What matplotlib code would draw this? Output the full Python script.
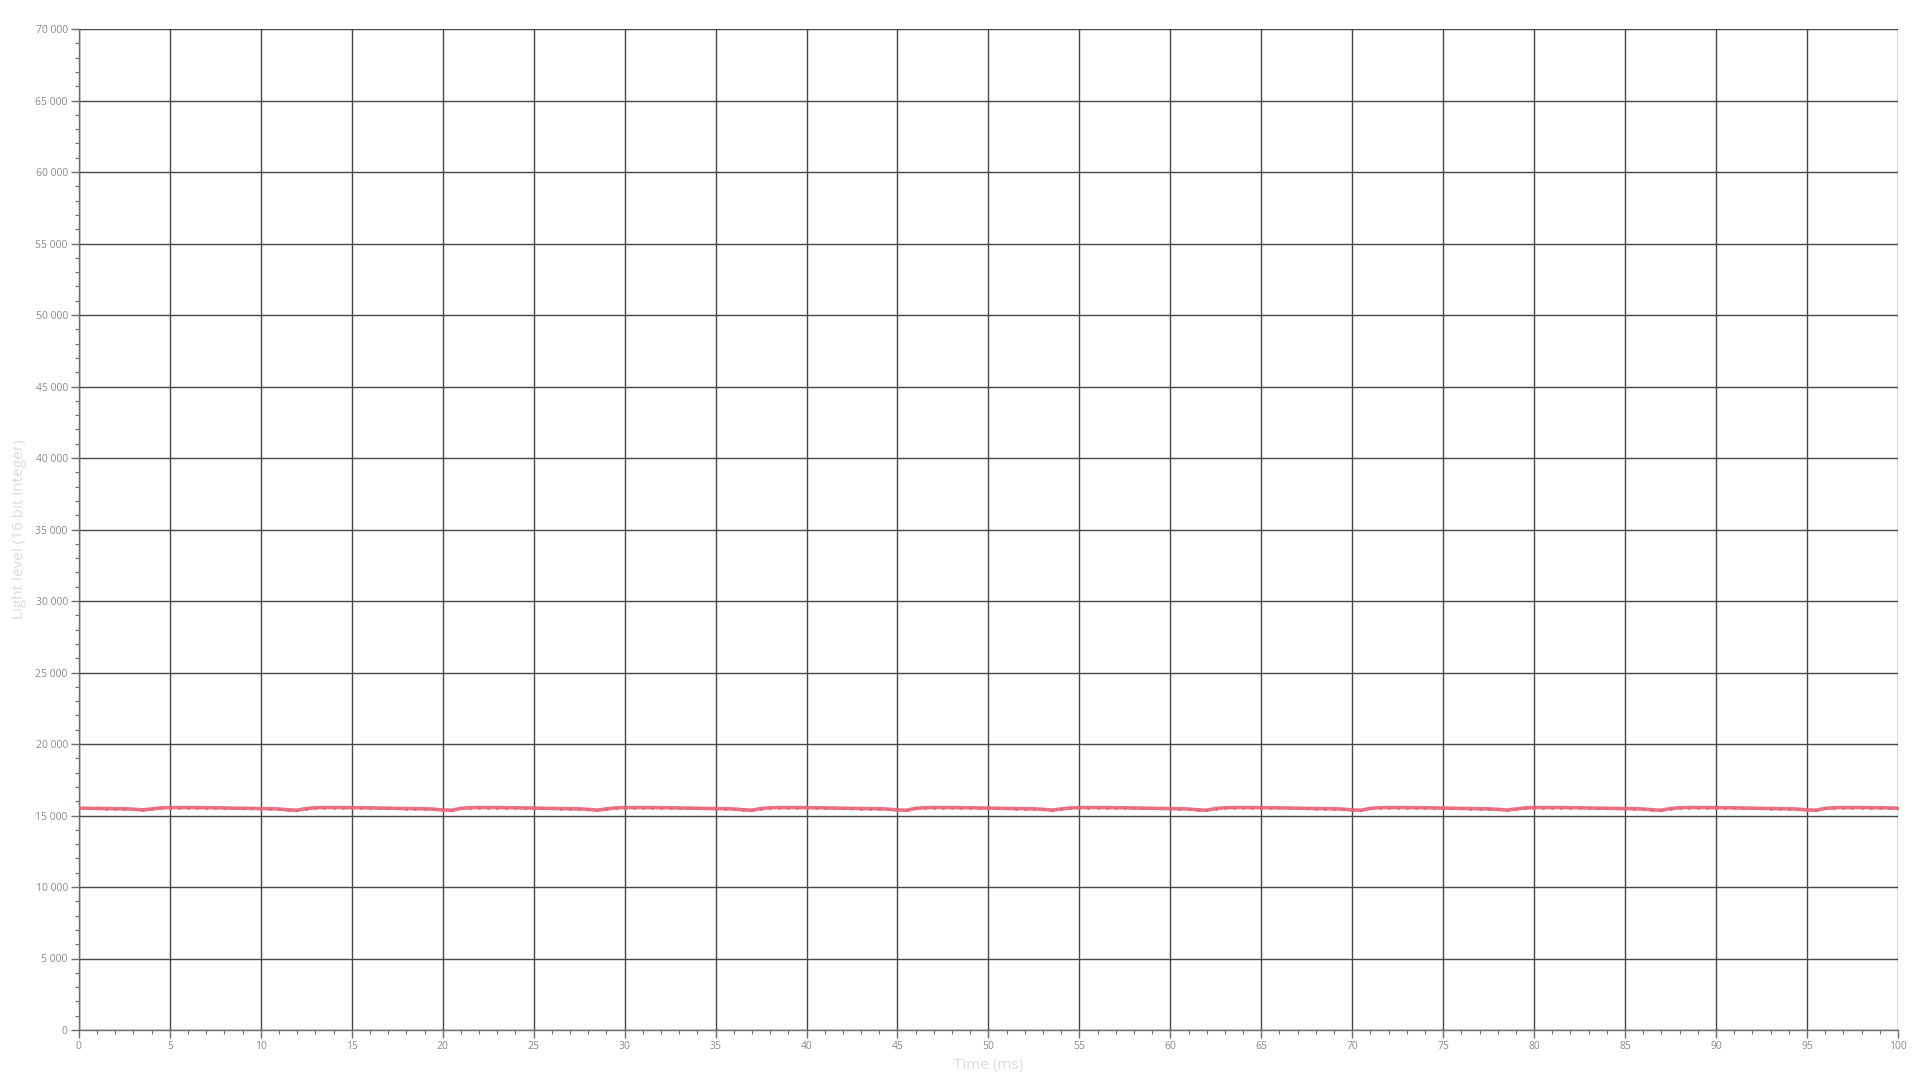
import numpy as np
import matplotlib; matplotlib.use("Agg")
import matplotlib.pyplot as plt
from matplotlib.ticker import MultipleLocator, FuncFormatter

plt.rcParams["font.family"] = ["Open Sans", "DejaVu Sans"]

# sample times (ms), one every 0.5 ms
t_ms = np.arange(0, 100.5, 0.5)
# light level, one row per flicker cycle
light = [
    15515, 15505, 15500, 15490, 15480, 15470, 15440, 15390,
    15460, 15530, 15555, 15560, 15560, 15555, 15545, 15540, 15525, 15515, 15505, 15495, 15485, 15475, 15455, 15400, 15370,
    15490, 15540, 15560, 15560, 15555, 15550, 15540, 15535, 15520, 15510, 15500, 15490, 15480, 15470, 15445, 15390, 15370,
    15500, 15545, 15560, 15560, 15555, 15550, 15540, 15530, 15515, 15505, 15495, 15490, 15480, 15465, 15430, 15380,
    15460, 15530, 15555, 15560, 15560, 15555, 15545, 15540, 15525, 15515, 15505, 15495, 15485, 15475, 15455, 15400, 15370,
    15490, 15540, 15560, 15560, 15555, 15550, 15540, 15535, 15520, 15510, 15500, 15490, 15480, 15470, 15445, 15390, 15370,
    15500, 15545, 15560, 15560, 15555, 15550, 15540, 15530, 15515, 15505, 15495, 15490, 15480, 15465, 15430, 15380,
    15460, 15530, 15555, 15560, 15560, 15555, 15545, 15540, 15525, 15515, 15505, 15495, 15485, 15475, 15455, 15400, 15370,
    15490, 15540, 15560, 15560, 15555, 15550, 15540, 15535, 15520, 15510, 15500, 15490, 15480, 15470, 15445, 15390, 15370,
    15500, 15545, 15560, 15560, 15555, 15550, 15540, 15530, 15515, 15505, 15495, 15490, 15480, 15465, 15430, 15380,
    15460, 15530, 15555, 15560, 15560, 15555, 15545, 15540, 15525, 15515, 15505, 15495, 15485, 15475, 15455, 15400, 15370,
    15490, 15540, 15560, 15560, 15555, 15550, 15540, 15535, 15520, 15510, 15500, 15490, 15480, 15470, 15445, 15390, 15370,
    15500, 15545, 15560, 15560, 15555, 15550, 15540, 15530, 15515,
]

fig = plt.figure(figsize=(19.2, 10.8), dpi=100)
ax = fig.add_axes([0.0411, 0.0463, 0.9474, 0.9268])

ax.plot(t_ms, light, color="#e8637a", lw=2.6, alpha=0.9, zorder=3,
        marker="o", ms=2.2, mfc="#e8637a", mec="none")

ax.set_xlim(0, 100); ax.set_ylim(0, 70000)
ax.xaxis.set_major_locator(MultipleLocator(5)); ax.xaxis.set_minor_locator(MultipleLocator(1))
ax.yaxis.set_major_locator(MultipleLocator(5000)); ax.yaxis.set_minor_locator(MultipleLocator(1000))
ax.yaxis.set_major_formatter(FuncFormatter(lambda v, p: f"{int(v):,}".replace(",", " ")))
ax.grid(True, which="major", color="#474747", lw=1.0)
ax.set_axisbelow(True)
for s in ("top", "right"):
    ax.spines[s].set_visible(False)
for s in ("left", "bottom"):
    ax.spines[s].set_color("#6e6e6e"); ax.spines[s].set_linewidth(1.0)
ax.tick_params(which="major", length=6, width=1.0, color="#6e6e6e", labelsize=7.5,
               labelcolor="#8a8a8a", pad=2)
ax.tick_params(which="minor", length=3, width=0.8, color="#6e6e6e")
ax.set_xlabel("Time (ms)", color="#dcdcdc", fontsize=11, labelpad=4)
ax.set_ylabel("Light level (16 bit integer)", color="#dcdcdc", fontsize=11, labelpad=6)

fig.savefig("out.png", dpi=100, facecolor="white")
